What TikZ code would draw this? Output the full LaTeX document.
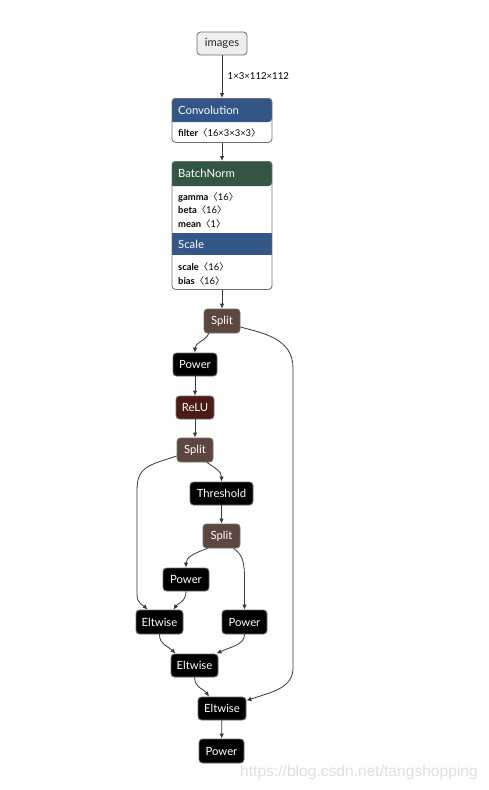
\documentclass[tikz,border=0pt]{standalone}
\usepackage{fontspec}
\setmainfont{Lato}
\newfontfamily\cjkf{Noto Sans CJK SC}
\newfontfamily\wmfont{Liberation Sans}
\usetikzlibrary{arrows.meta}
\definecolor{convblue}{RGB}{51,85,136}
\definecolor{normgreen}{RGB}{51,85,68}
\definecolor{splitbrown}{RGB}{94,70,64}
\definecolor{relured}{RGB}{75,27,22}
\definecolor{edgegray}{RGB}{55,55,55}
\definecolor{bordergray}{RGB}{110,110,110}
\definecolor{inputgray}{RGB}{238,238,238}
\newcommand{\lbr}{{\cjkf 〈}}
\newcommand{\rbr}{{\cjkf 〉}}
\begin{document}
\begin{tikzpicture}[x=1pt,y=-1pt,
  op/.style={rounded corners=3.5, draw=bordergray, line width=0.8, fill=black, text=white,
    font=\fontsize{11.3}{13}\selectfont, minimum height=23, inner sep=0, anchor=center},
  splitop/.style={op, fill=splitbrown, minimum width=36, minimum height=24},
  blockbox/.style={rounded corners=3.5, draw=bordergray, line width=0.8, inner sep=0, anchor=north},
  head/.style={anchor=west, text=white, font=\fontsize{11.3}{13}\selectfont, inner sep=0},
  attr/.style={anchor=west, text=black, font=\fontsize{9.4}{11}\selectfont, inner sep=0},
  lbl/.style={anchor=west, text=black, font=\fontsize{9.6}{11}\selectfont, inner sep=0},
  edge/.style={draw=edgegray, line width=0.8, -{Latex[length=5pt,width=4.5pt]}}]
\useasboundingbox (0,0) rectangle (489,790);

% input
\node[op, fill=inputgray, text=black!85, minimum width=50] (images) at (222,43.5) {images};

% Convolution block
\fill[convblue, rounded corners=3.5] (172,122) |- (222,98) -| (272,122) [sharp corners] -- cycle;
\node[blockbox, minimum width=100, minimum height=44] (conv) at (222,98) {};
\node[head] (convh) at (178,110) {Convolution};
\node[attr] (convf) at (178,132.5) {\textbf{filter}\lbr16×3×3×3\rbr};

% BatchNorm + Scale block
\fill[normgreen, rounded corners=3.5] (172,186) |- (222,161) -| (272,186) [sharp corners] -- cycle;
\fill[convblue] (172,233) rectangle (272,255);
\node[blockbox, minimum width=100, minimum height=128] (bn) at (222,161) {};
\node[head] (bnh) at (178,173.5) {BatchNorm};
\node[attr] (bng) at (178,197) {\textbf{gamma}\lbr16\rbr};
\node[attr] (bnb) at (178,210) {\textbf{beta}\lbr16\rbr};
\node[attr] (bnm) at (178,224) {\textbf{mean}\lbr1\rbr};
\node[head] (sch) at (178,244) {Scale};
\node[attr] (scs) at (178,267) {\textbf{scale}\lbr16\rbr};
\node[attr] (scb) at (178,281) {\textbf{bias}\lbr16\rbr};

% operator nodes
\node[splitop] (split1) at (222,321) {Split};
\node[op, minimum width=44] (power1) at (195,364.5) {Power};
\node[op, fill=relured, minimum width=38] (relu) at (195,407.5) {ReLU};
\node[splitop] (split2) at (195,450) {Split};
\node[op, minimum width=63] (thresh) at (221.5,493.5) {Threshold};
\node[splitop, minimum width=37] (split3) at (221.5,536) {Split};
\node[op, minimum width=46] (power2) at (186,579.5) {Power};
\node[op, minimum width=47, minimum height=24] (elt1) at (159.5,622) {Eltwise};
\node[op, minimum width=45, minimum height=24] (power3) at (244.5,622) {Power};
\node[op, minimum width=47] (elt2) at (194.5,665.5) {Eltwise};
\node[op, minimum width=48] (elt3) at (222,708.5) {Eltwise};
\node[op, minimum width=45, minimum height=24] (power4) at (221.5,751) {Power};

% connectors
\draw[edge] (images.south) -- (conv.north);
\node[lbl] (shape) at (227.5,76.5) {1×3×112×112};
\draw[edge] (conv.south) -- (bn.north);
\draw[edge] (bn.south) -- (split1.north);
\draw[edge] ([xshift=-13pt]split1.south) .. controls (205,341) and (195,343) .. (power1.north);
\draw[edge] ([yshift=-6pt]split1.east) .. controls (262,333) and (293,338) .. (293,368)
  -- (293,668) .. controls (293,688) and (272,692) .. ([yshift=8pt]elt3.east);
\draw[edge] (power1) -- (relu);
\draw[edge] (relu) -- (split2);
\draw[edge] ([yshift=-6pt]split2.west) .. controls (150,465) and (137,466) .. (137,490)
  -- (137,594) .. controls (137,604) and (143,605) .. ([xshift=-12pt]elt1.north);
\draw[edge] ([xshift=12pt]split2.south) .. controls (216,469) and (221.5,471) .. (thresh.north);
\draw[edge] (thresh) -- (split3);
\draw[edge] ([xshift=-14pt]split3.south) .. controls (195,553) and (186,557) .. (power2.north);
\draw[edge] ([xshift=12pt]split3.south) .. controls (243,555) and (244.5,562) .. (244.5,580) -- (power3.north);
\draw[edge] (power2.south) .. controls (186,602) and (178,603) .. ([xshift=14pt]elt1.north);
\draw[edge] (elt1.south) .. controls (159.5,645) and (168,646) .. ([xshift=-19pt]elt2.north);
\draw[edge] (power3.south) .. controls (244.5,645) and (230,647) .. ([xshift=22pt]elt2.north);
\draw[edge] (elt2.south) .. controls (195,688) and (204,689) .. ([xshift=-13pt]elt3.north);
\draw[edge] (elt3) -- (power4);

% watermark
\node[anchor=west, inner sep=0, text=black!13, font=\wmfont\fontsize{15.6}{18}\selectfont] (wm) at (240,772) {https://blog.csdn.net/tangshopping};
\end{tikzpicture}
\end{document}
